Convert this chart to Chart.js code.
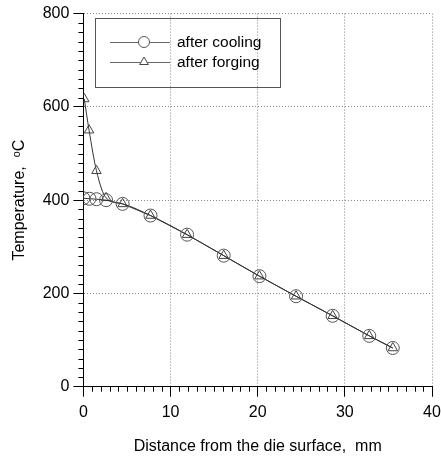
<!DOCTYPE html>
<html>
<head>
<meta charset="utf-8">
<script src="https://cdn.jsdelivr.net/npm/chart.js@4"></script>
<style>
  html, body { margin: 0; padding: 0; background: #fff; }
</style>
</head>
<body>
<canvas id="tempChart" width="441" height="456"></canvas>
<script>
// Temperature profile below the die surface
var coolingDistance = [0, 0.7, 1.5, 2.6, 4.5, 7.7, 11.9, 16.1, 20.2, 24.4, 28.6, 32.8, 35.5];
var coolingTemp = [404, 403, 402, 400, 392, 367, 326, 281, 237, 194, 152, 109, 83];
var forgingDistance = [0.1, 0.65, 1.5, 2.6, 4.5, 7.7, 11.9, 16.1, 20.2, 24.4, 28.6, 32.8, 35.5];
var forgingTemp = [617, 550, 463, 405, 392, 367, 326, 281, 237, 194, 152, 109, 83];
var seriesLabels = ["after cooling", "after forging"];
var xTicks = [0, 10, 20, 30, 40];
var yTicks = [0, 200, 400, 600, 800];

var fontFamily = "'Liberation Sans', Arial, sans-serif";

function toPoints(xs, ys) {
    return xs.map(function (x, i) { return { x: x, y: ys[i] }; });
}

// small ticks between the labelled ones, drawn outward like the big ones
var minorTicks = {
    id: 'minorTicks',
    afterDraw: function (chart) {
        var ctx = chart.ctx;
        var xs = chart.scales.x, ys = chart.scales.y;
        ctx.save();
        ctx.strokeStyle = '#000';
        ctx.lineWidth = 1;
        ctx.beginPath();
        for (var v = xs.min; v <= xs.max; v += 1) {
            if (v % 10 === 0) continue;
            var px = Math.round(xs.getPixelForValue(v)) + 0.5;
            ctx.moveTo(px, ys.bottom);
            ctx.lineTo(px, ys.bottom + 5);
        }
        for (var t = ys.min; t <= ys.max; t += 20) {
            if (t % 200 === 0) continue;
            var py = Math.round(ys.getPixelForValue(t)) + 0.5;
            ctx.moveTo(xs.left, py);
            ctx.lineTo(xs.left - 5, py);
        }
        ctx.stroke();
        ctx.restore();
    }
};

// boxed legend sitting inside the plot, top left
var boxLegend = {
    id: 'boxLegend',
    afterDraw: function (chart) {
        var ctx = chart.ctx;
        ctx.save();
        ctx.strokeStyle = '#555';
        ctx.lineWidth = 1;
        ctx.strokeRect(95.5, 18.5, 185, 69);
        chart.data.datasets.forEach(function (ds, i) {
            var y = 42 + i * 20;
            ctx.strokeStyle = '#666';
            ctx.beginPath();
            ctx.moveTo(110, y + 0.5);
            ctx.lineTo(170, y + 0.5);
            ctx.stroke();
            ctx.fillStyle = 'rgba(255,255,255,1)';
            ctx.strokeStyle = ds.pointBorderColor;
            ctx.lineWidth = 1;
            Chart.helpers.drawPoint(ctx, { pointStyle: ds.pointStyle, radius: ds.pointStyle === 'circle' ? 5.5 : 5, borderWidth: 1, rotation: 0 }, 144, y);
            ctx.fillStyle = '#000';
            ctx.font = '15.5px ' + fontFamily;
            ctx.textBaseline = 'middle';
            ctx.fillText(ds.label, 177, y + 1);
        });
        ctx.restore();
    }
};

var tempContext = document.getElementById("tempChart").getContext("2d");
var tempChart = new Chart(tempContext, {
    type: 'line',
    data: {
        datasets: [{
            label: seriesLabels[0],
            data: toPoints(coolingDistance, coolingTemp),
            borderColor: '#333',
            borderWidth: 1,
            pointStyle: 'circle',
            pointRadius: 6.5,
            pointBorderColor: '#555',
            pointBackgroundColor: 'rgba(0,0,0,0)',
            pointBorderWidth: 1,
            tension: 0
        }, {
            label: seriesLabels[1],
            data: toPoints(forgingDistance, forgingTemp),
            borderColor: '#333',
            borderWidth: 1,
            pointStyle: 'triangle',
            pointRadius: 5.5,
            pointBorderColor: '#444',
            pointBackgroundColor: 'rgba(0,0,0,0)',
            pointBorderWidth: 1,
            cubicInterpolationMode: 'monotone'
        }]
    },
    options: {
        responsive: false,
        animation: false,
        layout: { padding: { top: 11, right: 0, left: 7.5, bottom: 0 } },
        plugins: { legend: { display: false }, tooltip: { enabled: false } },
        scales: {
            x: {
                type: 'linear',
                min: xTicks[0],
                max: xTicks[xTicks.length - 1],
                afterBuildTicks: function (s) { s.ticks = xTicks.map(function (v) { return { value: v }; }); },
                afterFit: function (s) { s.paddingRight = 9; s.height = 69.3; },
                ticks: { color: '#000', font: { size: 16, family: fontFamily }, padding: 6, maxRotation: 0 },
                grid: { color: '#888', tickColor: '#000', tickLength: 10 },
                border: { color: '#000', width: 1, dash: [1, 2] },
                title: { display: true, text: 'Distance from the die surface,  mm', color: '#000', font: { size: 16, family: fontFamily, lineHeight: 1.0 }, padding: { top: 10, bottom: 1 } }
            },
            y: {
                type: 'linear',
                min: yTicks[0],
                max: yTicks[yTicks.length - 1],
                afterBuildTicks: function (s) { s.ticks = yTicks.map(function (v) { return { value: v }; }); },
                ticks: { color: '#000', font: { size: 16, family: fontFamily }, padding: 4 },
                grid: { color: '#888', tickColor: '#000', tickLength: 10 },
                border: { color: '#000', width: 1, dash: [1, 2] },
                title: { display: true, text: 'Temperature,  \u1D52C', color: '#000', font: { size: 16, family: fontFamily }, padding: { top: 2.5, bottom: 9.5 } }
            }
        }
    },
    plugins: [minorTicks, boxLegend]
});
</script>
</body>
</html>
